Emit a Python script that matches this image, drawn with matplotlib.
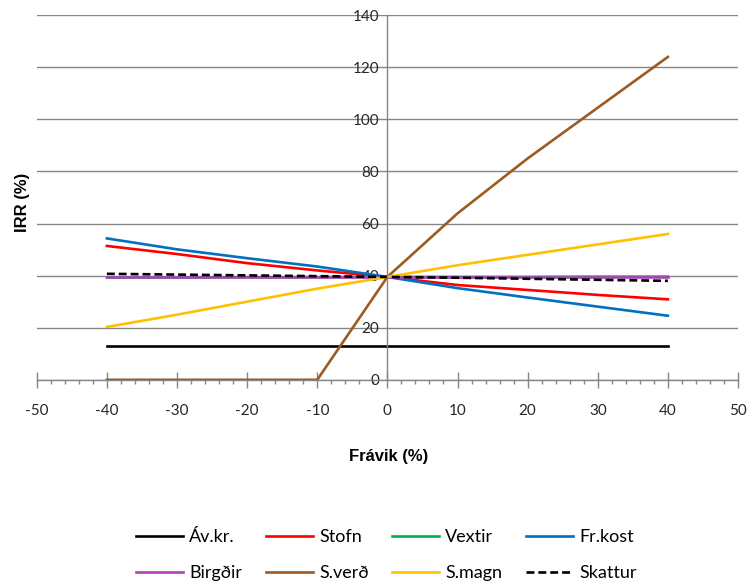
import matplotlib
matplotlib.use("Agg")
import matplotlib.pyplot as plt
from matplotlib.ticker import MultipleLocator

plt.rcParams["axes.unicode_minus"] = False

# deviation from base case (%)
fravik = [-40, -30, -20, -10, 0, 10, 20, 30, 40]

# IRR (%) for each sensitivity parameter
av_kr = [12.8, 12.8, 12.8, 12.8, 12.8, 12.8, 12.8, 12.8, 12.8]
stofn = [51.4, 48.3, 44.8, 42.0, 39.5, 36.4, 34.5, 32.6, 30.9]
vextir = [39.3, 39.3, 39.4, 39.4, 39.5, 39.5, 39.5, 39.6, 39.6]
fr_kost = [54.3, 50.1, 46.7, 43.5, 39.5, 35.2, 31.6, 28.1, 24.6]
birgdir = [39.5, 39.5, 39.5, 39.5, 39.5, 39.5, 39.5, 39.5, 39.5]
s_verd = [0, 0, 0, 0, 39.5, 63.9, 85.0, 104.5, 124.0]
s_magn = [20.3, 25.0, 30.0, 35.0, 39.5, 44.0, 48.0, 52.0, 56.0]
skattur = [40.7, 40.4, 40.1, 39.8, 39.5, 39.2, 38.8, 38.4, 38.0]

names = ["Áv.kr.", "Stofn", "Vextir", "Fr.kost", "Birgðir", "S.verð", "S.magn", "Skattur"]
series = [av_kr, stofn, vextir, fr_kost, birgdir, s_verd, s_magn, skattur]
colors = ["#000000", "#FF0000", "#00B050", "#0070C0", "#B23FB8", "#9C5B22", "#FFC000", "#000000"]
styles = ["-", "-", "-", "-", "-", "-", "-", "--"]

fig = plt.figure(figsize=(7.5, 5.87), dpi=100)
ax = fig.add_axes([0.049, 0.353, 0.935, 0.621])

lines = []
for vals, name, c, ls in zip(series, names, colors, styles):
    ln, = ax.plot(fravik, vals, color=c, ls=ls, lw=1.9, label=name,
                  dashes=(3, 1.5) if ls == "--" else (None, None))
    lines.append(ln)

ax.set_xlim(-50, 50)
ax.set_ylim(0, 140)
ax.xaxis.set_major_locator(MultipleLocator(10))
ax.xaxis.set_minor_locator(MultipleLocator(2))
ax.yaxis.set_major_locator(MultipleLocator(20))

gray = "#868686"
ax.grid(axis="y", color=gray, lw=1.0)
ax.set_axisbelow(True)

ax.spines["left"].set_position(("data", 0))
ax.spines["bottom"].set_position(("data", 0))
ax.spines["right"].set_visible(False)
ax.spines["top"].set_visible(False)
for s in ("left", "bottom"):
    ax.spines[s].set_color(gray)
    ax.spines[s].set_linewidth(1.0)

ax.tick_params(axis="y", length=0, pad=6, labelsize=11, labelcolor="#262626")
ax.tick_params(axis="x", which="major", direction="inout", length=11, width=1.0,
               color=gray, pad=12, labelsize=11, labelcolor="#262626")
ax.tick_params(axis="x", which="minor", direction="out", length=3, width=1.0, color=gray)
for lab in ax.get_xticklabels() + ax.get_yticklabels():
    lab.set_fontfamily("Lato")

fig.text(0.518, 0.222, "Frávik (%)", ha="center", va="center",
         fontsize=12, fontweight="bold", family="Liberation Sans")
fig.text(0.03, 0.655, "IRR (%)", ha="center", va="center", rotation=90,
         fontsize=12, fontweight="bold", family="Liberation Sans")

# legend filled row by row: 4 per row
order = [0, 4, 1, 5, 2, 6, 3, 7]
fig.legend([lines[i] for i in order], [names[i] for i in order],
           loc="center", bbox_to_anchor=(0.515, 0.054), ncol=4, frameon=False,
           prop=dict(family="Lato", size=13), handlelength=2.6, handletextpad=0.35,
           columnspacing=1.3, labelspacing=1.1)

fig.savefig("out.png", dpi=100)
